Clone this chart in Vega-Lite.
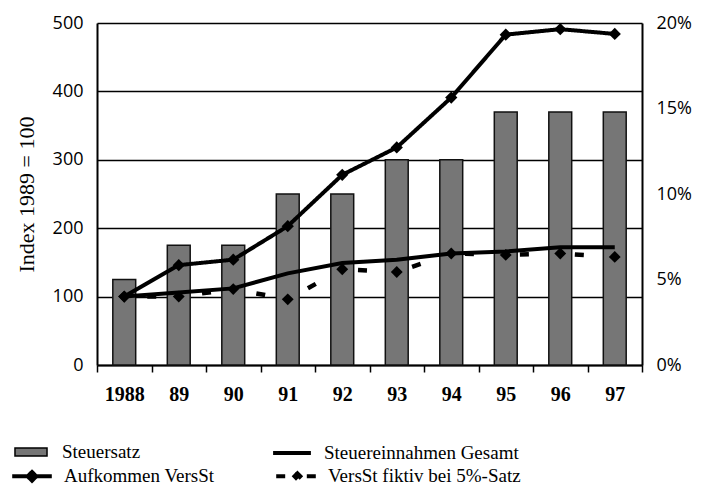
{
  "$schema": "https://vega.github.io/schema/vega-lite/v6.json",
  "autosize": "none",
  "padding": {"left": 97, "top": 23, "right": 61, "bottom": 132},
  "width": 545,
  "height": 342,
  "background": "white",
  "config": {
    "view": {"stroke": null},
    "font": "Liberation Serif",
    "mark": {"color": "black"},
    "legend": {
      "rowPadding": 0, "padding": 0,
      "symbolSize": 324, "symbolOffset": 16, "labelOffset": 21,
      "labelFont": "Liberation Serif", "labelFontSize": 19, "labelColor": "black", "labelLimit": 0
    }
  },
  "data": {
    "values": [
      {"Jahr": "1988", "Satz": 5, "Aufkommen": 100, "Gesamt": 100, "Fiktiv": 100},
      {"Jahr": "89", "Satz": 7, "Aufkommen": 146, "Gesamt": 106, "Fiktiv": 100},
      {"Jahr": "90", "Satz": 7, "Aufkommen": 154, "Gesamt": 112, "Fiktiv": 111},
      {"Jahr": "91", "Satz": 10, "Aufkommen": 203, "Gesamt": 134, "Fiktiv": 96},
      {"Jahr": "92", "Satz": 10, "Aufkommen": 278, "Gesamt": 149, "Fiktiv": 140},
      {"Jahr": "93", "Satz": 12, "Aufkommen": 318, "Gesamt": 154, "Fiktiv": 136},
      {"Jahr": "94", "Satz": 12, "Aufkommen": 391, "Gesamt": 163, "Fiktiv": 163},
      {"Jahr": "95", "Satz": 14.8, "Aufkommen": 483, "Gesamt": 166, "Fiktiv": 161},
      {"Jahr": "96", "Satz": 14.8, "Aufkommen": 491, "Gesamt": 172, "Fiktiv": 163},
      {"Jahr": "97", "Satz": 14.8, "Aufkommen": 484, "Gesamt": 172, "Fiktiv": 158}
    ]
  },
  "encoding": {
    "x": {
      "field": "Jahr", "type": "ordinal", "sort": null,
      "scale": {"paddingInner": 0, "paddingOuter": 0},
      "axis": {
        "title": null, "labelAngle": 0, "tickBand": "extent",
        "ticks": true, "tickSize": 7, "tickWidth": 1.5, "tickColor": "black",
        "domainColor": "black", "domainWidth": 2,
        "labelFont": "Liberation Serif", "labelFontWeight": "bold", "labelFontSize": 20,
        "labelColor": "black", "labelPadding": 12, "grid": false
      }
    }
  },
  "layer": [
    {
      "mark": {"type": "bar", "width": {"band": 0.42}, "stroke": "#111", "strokeWidth": 1.5},
      "encoding": {
        "y": {
          "field": "Satz", "type": "quantitative",
          "scale": {"domain": [0, 20]},
          "axis": {
            "orient": "right", "title": null, "values": [0, 5, 10, 15, 20],
            "labelExpr": "datum.value + '%'", "grid": false, "ticks": false,
            "domainColor": "black", "domainWidth": 2,
            "labelFont": "Open Sans", "labelFontSize": 18, "labelColor": "black", "labelPadding": 14
          }
        },
        "fill": {
          "datum": "Steuersatz",
          "scale": {"domain": ["Steuersatz"], "range": ["#767676"]},
          "legend": {
            "title": null, "orient": "none", "legendX": -92, "legendY": 419,
            "symbolType": "M-1.78,-0.45H1.78V0.45H-1.78Z",
            "symbolStrokeColor": "black", "symbolStrokeWidth": 1.5
          }
        }
      }
    },
    {
      "encoding": {
        "y": {
          "type": "quantitative",
          "scale": {"domain": [0, 500]},
          "axis": {
            "orient": "left", "title": "Index 1989 = 100", "values": [0, 100, 200, 300, 400, 500],
            "grid": true, "gridColor": "black", "gridWidth": 1.5, "gridOpacity": 1,
            "ticks": false, "domainColor": "black", "domainWidth": 2,
            "labelFont": "Open Sans", "labelFontSize": 18, "labelColor": "black", "labelPadding": 14,
            "titleFont": "Liberation Serif", "titleFontSize": 22, "titleFontWeight": "normal",
            "titleColor": "black", "titlePadding": 14
          }
        }
      },
      "layer": [
        {
          "mark": {"type": "line", "strokeWidth": 4},
          "encoding": {
            "y": {"field": "Gesamt", "type": "quantitative"},
            "stroke": {
              "datum": "Steuereinnahmen Gesamt",
              "scale": {"domain": ["Steuereinnahmen Gesamt"], "range": ["black"]},
              "legend": {
                "title": null, "orient": "none", "legendX": 168, "legendY": 419,
                "symbolType": "M-2.1,0H2.1", "symbolStrokeWidth": 4
              }
            }
          }
        },
        {
          "mark": {"type": "line", "strokeWidth": 4.5, "strokeDashOffset": 32},
          "encoding": {
            "y": {"field": "Fiktiv", "type": "quantitative"},
            "strokeDash": {"datum": "VersSt fiktiv bei 5%-Satz"}
          }
        },
        {
          "mark": {"type": "point", "shape": "diamond", "filled": true, "color": "black", "opacity": 1, "size": 140},
          "encoding": {"y": {"field": "Fiktiv", "type": "quantitative"}}
        },
        {
          "mark": {"type": "line", "strokeWidth": 4},
          "encoding": {
            "y": {"field": "Aufkommen", "type": "quantitative"},
            "strokeDash": {
              "datum": "Aufkommen VersSt",
              "scale": {"domain": ["Aufkommen VersSt", "VersSt fiktiv bei 5%-Satz"], "range": [[1, 0], [9, 46]]},
              "legend": {
                "title": null, "orient": "none", "legendX": -92, "legendY": 442,
                "columns": 2, "columnPadding": 53,
                "symbolType": "M-2.2,0H0 M2.2,0H0 M0,-0.48L0.48,0L0,0.48L-0.48,0Z",
                "symbolStrokeColor": "black", "symbolFillColor": "black", "symbolStrokeWidth": 4
              }
            }
          }
        },
        {
          "mark": {"type": "point", "shape": "diamond", "filled": true, "color": "black", "opacity": 1, "size": 150},
          "encoding": {"y": {"field": "Aufkommen", "type": "quantitative"}}
        }
      ]
    }
  ],
  "resolve": {"scale": {"y": "independent"}}
}
